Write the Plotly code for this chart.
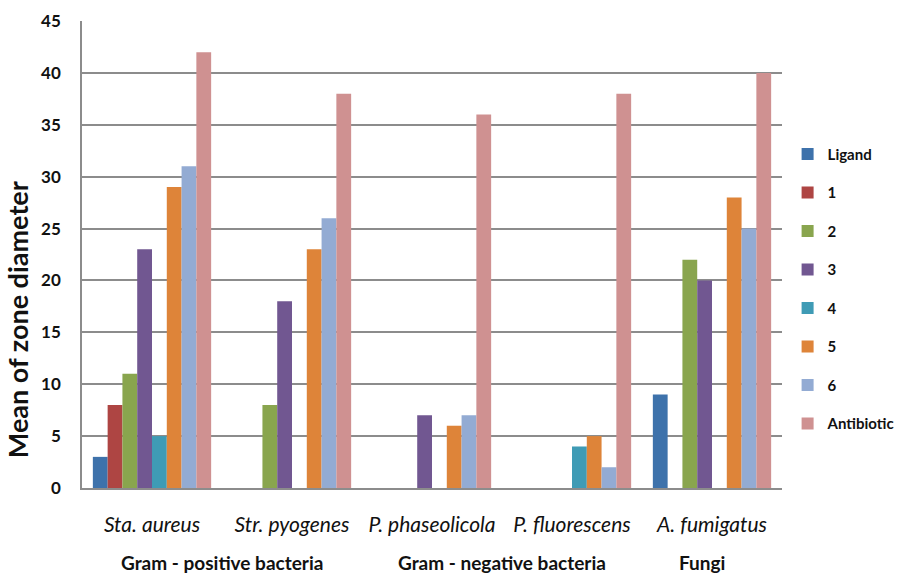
import plotly.graph_objects as go

# Organisms tested and the group each belongs to
organisms = ["Sta. aureus", "Str. pyogenes", "P. phaseolicola", "P. fluorescens", "A. fumigatus"]
groups = ["Gram - positive bacteria", "Gram - negative bacteria", "Fungi"]

# Mean inhibition zone diameter for each compound (0 = no activity)
ligand     = [3, 0, 0, 0, 9]
comp_1     = [8, 0, 0, 0, 0]
comp_2     = [11, 8, 0, 0, 22]
comp_3     = [23, 18, 7, 0, 20]
comp_4     = [5, 0, 0, 4, 0]
comp_5     = [29, 23, 6, 5, 28]
comp_6     = [31, 26, 7, 2, 25]
antibiotic = [42, 38, 36, 38, 40]

series_names = ["Ligand", "1", "2", "3", "4", "5", "6", "Antibiotic"]
series_values = [ligand, comp_1, comp_2, comp_3, comp_4, comp_5, comp_6, antibiotic]
series_colors = ["#3E72AB", "#AE4543", "#89A54E", "#715791",
                 "#3F9BB5", "#DE8439", "#93ABD3", "#CF9191"]

FONT = "Lato, 'Open Sans', sans-serif"
TEXT = "#111111"

fig = go.Figure()
for i, (name, vals, col) in enumerate(zip(series_names, series_values, series_colors)):
    fig.add_trace(go.Bar(
        x=organisms, y=vals, name=name,
        marker=dict(color=col, line=dict(width=0)),
        legendgroup=f"g{i}",
    ))

fig.update_layout(
    width=899, height=575,
    margin=dict(l=82, r=117, t=21, b=87, autoexpand=False),
    paper_bgcolor="white", plot_bgcolor="white",
    barmode="group", bargap=0.155, bargroupgap=0,
    font=dict(family=FONT, color=TEXT),
    showlegend=True,
    legend=dict(
        x=1.008, xanchor="left", y=0.75, yanchor="top",
        font=dict(family=FONT, size=15, color=TEXT, weight="bold"),
        tracegroupgap=16, traceorder="grouped",
        bgcolor="rgba(0,0,0,0)",
    ),
    xaxis=dict(
        showgrid=False, showline=True, linecolor="#8C8C8C", linewidth=1.5,
        ticks="", ticklabelstandoff=17,
        tickfont=dict(family=FONT, size=21, color=TEXT, style="italic"),
    ),
    yaxis=dict(
        range=[0, 45], dtick=5, tick0=0,
        showgrid=True, gridcolor="#8C8C8C", gridwidth=1.5,
        showline=True, linecolor="#8C8C8C", linewidth=1.5,
        zeroline=False, ticks="", ticklabelstandoff=16,
        tickfont=dict(family=FONT, size=17, color=TEXT, weight="bold"),
    ),
)

# Rotated y-axis title
fig.add_annotation(
    text="Mean of zone diameter", textangle=-90,
    xref="paper", yref="paper", x=-0.091, y=0.36,
    xanchor="center", yanchor="middle", showarrow=False,
    font=dict(family=FONT, size=27, color=TEXT, weight="bold"),
)

# Group labels beneath the organism names
group_x = [1 / 5, 3 / 5, 4.43 / 5]
for g, gx in zip(groups, group_x):
    fig.add_annotation(
        text=g, xref="paper", yref="paper", x=gx, y=-0.16,
        xanchor="center", yanchor="middle", showarrow=False,
        font=dict(family=FONT, size=19, color=TEXT, weight="bold"),
    )

fig.write_html("out.html")
